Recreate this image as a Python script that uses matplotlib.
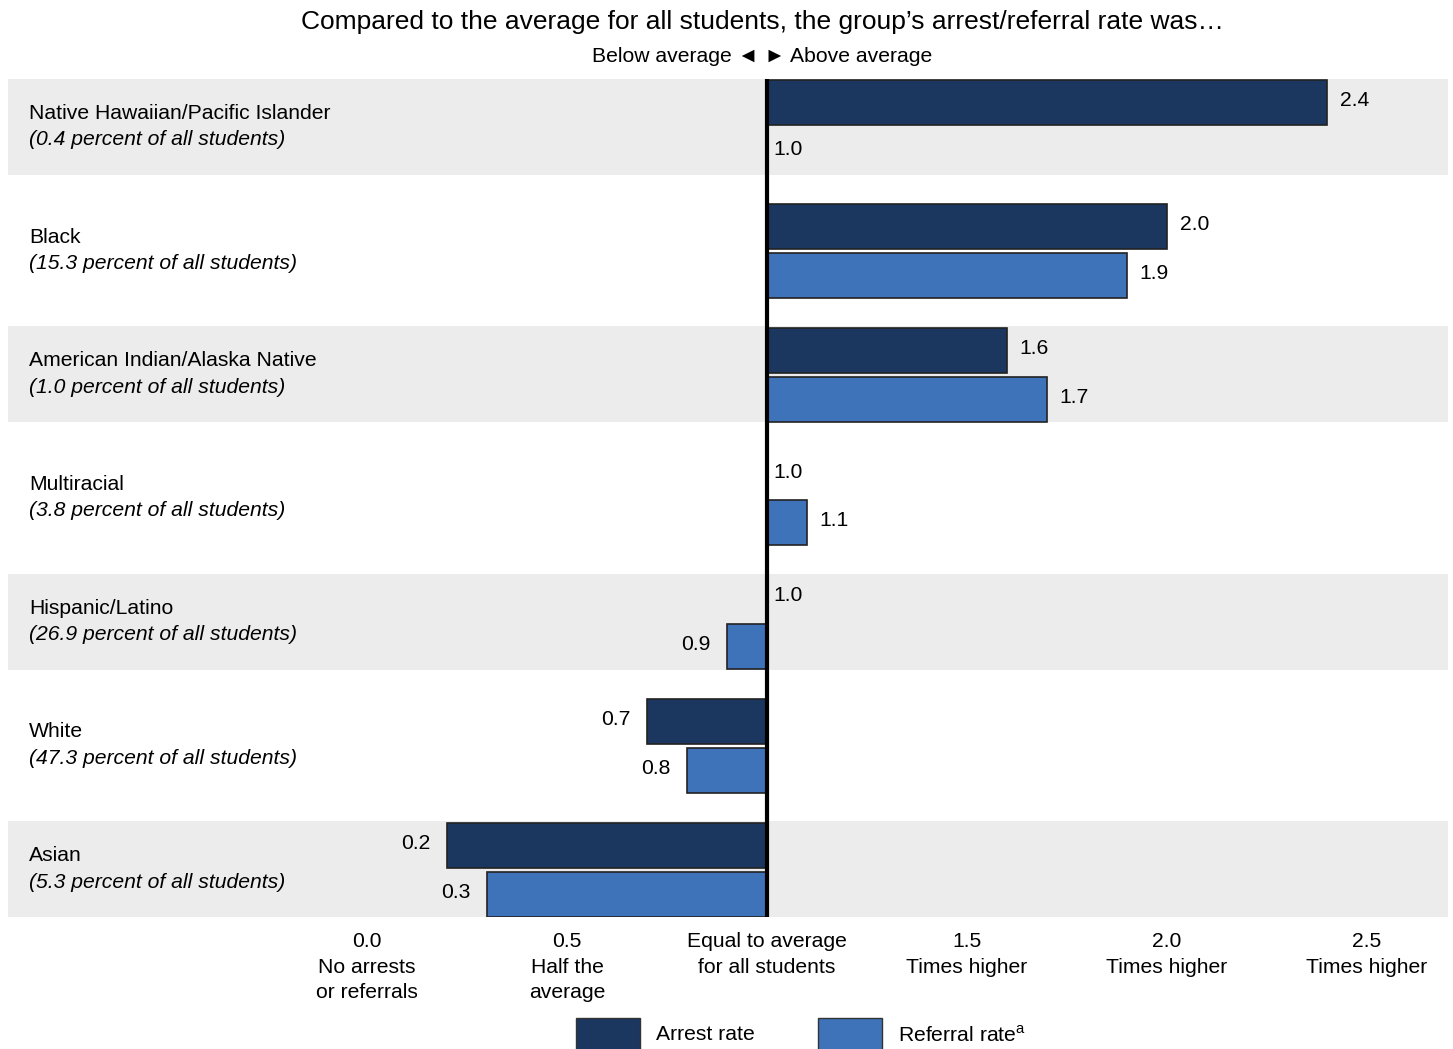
import numpy as np
import matplotlib.pyplot as plt
from matplotlib.patches import Rectangle

plt.rcParams['font.family'] = ['Liberation Sans', 'DejaVu Sans']

groups = ['Native Hawaiian/Pacific Islander', 'Black', 'American Indian/Alaska Native',
          'Multiracial', 'Hispanic/Latino', 'White', 'Asian']
shares = ['0.4', '15.3', '1.0', '3.8', '26.9', '47.3', '5.3']
arrest = [2.4, 2.0, 1.6, 1.0, 1.0, 0.7, 0.2]
referral = [1.0, 1.9, 1.7, 1.1, 0.9, 0.8, 0.3]

tick_pos = [0.0, 0.5, 1.0, 1.5, 2.0, 2.5]
tick_labels = ['0.0\nNo arrests\nor referrals', '0.5\nHalf the\naverage',
               'Equal to average\nfor all students', '1.5\nTimes higher',
               '2.0\nTimes higher', '2.5\nTimes higher']

dark = '#1b365f'
light = '#3e73b9'
band = '#ebeceb'

W, H = 1453, 1049
fig = plt.figure(figsize=(W / 100, H / 100), dpi=100)
ax = fig.add_axes([8 / W, 1 - 917 / H, 1440 / W, 838 / H])

step = 1.2367
centers = np.arange(len(groups)) * step
bh = 0.45
off = 0.245

for i, c in enumerate(centers):
    if i % 2 == 0:
        ax.axhspan(c - 0.485, c + 0.475, color=band, lw=0, zorder=0)

ax.barh(centers - off, np.array(arrest) - 1.0, left=1.0, height=bh,
        color=dark, edgecolor='#222222', lw=1.2, zorder=2)
ax.barh(centers + off, np.array(referral) - 1.0, left=1.0, height=bh,
        color=light, edgecolor='#222222', lw=1.2, zorder=2)

fs = 15.2
for vals, dy in ((arrest, -off), (referral, off)):
    for c, v in zip(centers, vals):
        y = c + dy - 0.02
        if v > 1.0:
            ax.text(v + 0.032, y, f'{v:.1f}', ha='left', va='center', fontsize=fs)
        elif v < 1.0:
            ax.text(v - 0.04, y, f'{v:.1f}', ha='right', va='center', fontsize=fs)
        else:
            ax.text(1.015, y, f'{v:.1f}', ha='left', va='center', fontsize=fs)

for c, name, share in zip(centers, groups, shares):
    ax.text(-0.845, c - 0.14, name, ha='left', va='center', fontsize=fs)
    ax.text(-0.845, c + 0.125, f'({share} percent of all students)', ha='left',
            va='center', fontsize=fs, style='italic')

ax.axvline(1.0, color='black', lw=3.0, zorder=5)

ax.set_xlim(-0.8975, 2.7025)
ax.set_ylim(centers[-1] + 0.475, centers[0] - 0.485)
ax.set_yticks([])
ax.set_xticks(tick_pos)
ax.set_xticklabels(tick_labels, fontsize=fs, linespacing=1.42)
ax.tick_params(axis='x', length=0, pad=11)
for s in ax.spines.values():
    s.set_visible(False)

fig.text(762.5 / W, 1 - 22 / H,
         'Compared to the average for all students, the group\u2019s arrest/referral rate was\u2026',
         ha='center', va='center', fontsize=19)
fig.text(762 / W, 1 - 56 / H, 'Below average \u25c4 \u25ba Above average',
         ha='center', va='center', fontsize=fs)

# legend swatches run off the bottom edge
fig.patches.append(Rectangle((576 / W, -0.01), 64 / W, (1049 - 1018) / H + 0.01,
                             transform=fig.transFigure, facecolor=dark,
                             edgecolor='#333333', lw=1))
fig.patches.append(Rectangle((818 / W, -0.01), 64 / W, (1049 - 1018) / H + 0.01,
                             transform=fig.transFigure, facecolor=light,
                             edgecolor='#333333', lw=1))
fig.text(656 / W, 1 - 1035 / H, 'Arrest rate', ha='left', va='center', fontsize=fs)
fig.text(898 / W, 1 - 1035 / H, 'Referral rate$^\\mathregular{a}$', ha='left',
         va='center', fontsize=fs)

fig.savefig('out.png', dpi=100)
